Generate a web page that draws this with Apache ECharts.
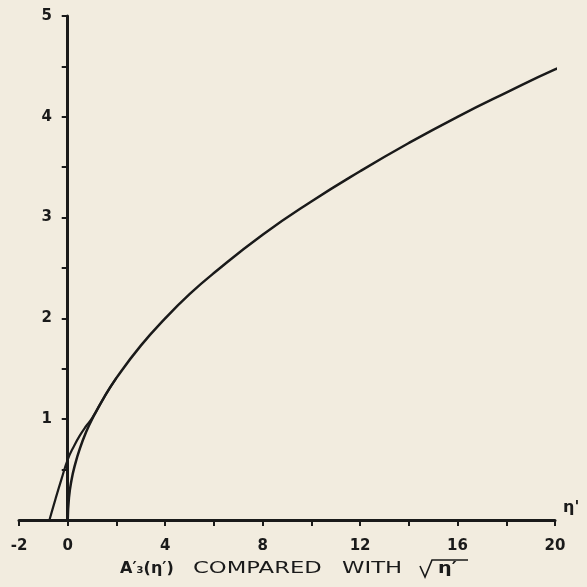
<!DOCTYPE html>
<html>
<head>
<meta charset="utf-8">
<script src="https://cdn.jsdelivr.net/npm/echarts@6/dist/echarts.min.js"></script>
<style>
  html, body { margin: 0; padding: 0; background: #f2ecdf; }
  #chart { width: 587px; height: 587px; }
</style>
</head>
<body>
<div id="chart"></div>
<script>
// sqrt(eta') curve
var rootX = [0, 0.05, 0.15, 0.3, 0.5, 0.75, 1, 1.5, 2, 3, 4, 5, 6, 8, 10, 12, 14, 16, 18, 20, 20.4]
var rootY = [0, 0.22, 0.39, 0.55, 0.71, 0.87, 1.0, 1.22, 1.41, 1.73, 2.0, 2.24, 2.45, 2.83, 3.16, 3.46, 3.74, 4.0, 4.24, 4.47, 4.5]
// A'3(eta') curve near the origin
var a3X = [-0.75, -0.5, -0.25, 0, 0.25, 0.5, 0.75, 1.0, 1.5, 2]
var a3Y = [0, 0.21, 0.41, 0.6, 0.73, 0.84, 0.93, 1.01, 1.22, 1.41]
// tick labels
var xLabels = [-2, 0, 4, 8, 12, 16, 20]
var yLabels = [1, 2, 3, 4, 5]

var ink = '#1a1a1a'
var labelFont = { color: ink, fontFamily: 'DejaVu Sans', fontWeight: 'bold', fontSize: 15 }

function pairs(xs, ys) {
  return xs.map(function (x, i) { return [x, ys[i]] })
}

// caption words, stretched wide like the printed lettering
function word(text, x, sx, bold) {
  return {
    type: 'text',
    x: x,
    y: 569,
    scaleX: sx,
    style: {
      text: text,
      fill: ink,
      font: (bold ? 'bold ' : '') + '16px "DejaVu Sans"',
      verticalAlign: 'middle'
    }
  }
}

var chart = echarts.init(document.getElementById('chart'))
chart.setOption({
  backgroundColor: '#f2ecdf',
  animation: false,
  grid: { left: 19, right: 32, top: 16, bottom: 67, outerBoundsMode: 'none' },
  xAxis: {
    type: 'value',
    min: -2,
    max: 20,
    interval: 2,
    name: "η'",
    nameLocation: 'end',
    nameGap: 8,
    nameTextStyle: Object.assign({}, labelFont, { fontSize: 16, verticalAlign: 'bottom', padding: [0, 0, 4, 0] }),
    axisLine: { lineStyle: { color: ink, width: 3 } },
    axisTick: { length: 6, lineStyle: { color: ink, width: 2 } },
    splitLine: { show: false },
    axisLabel: Object.assign({}, labelFont, {
      margin: 19,
      formatter: function (v) {
        return xLabels.indexOf(v) >= 0 ? String(v) : ''
      }
    })
  },
  yAxis: {
    type: 'value',
    min: 0,
    max: 5,
    interval: 0.5,
    axisLine: { onZero: true, lineStyle: { color: ink, width: 3 } },
    axisTick: { length: 6, lineStyle: { color: ink, width: 2 } },
    splitLine: { show: false },
    axisLabel: Object.assign({}, labelFont, {
      margin: -33,
      formatter: function (v) {
        return yLabels.indexOf(v) >= 0 ? String(v) : ''
      }
    })
  },
  series: [
    {
      type: 'line',
      data: pairs(rootX, rootY),
      smooth: true,
      showSymbol: false,
      lineStyle: { color: ink, width: 2.5 }
    },
    {
      type: 'line',
      data: pairs(a3X, a3Y),
      smooth: true,
      showSymbol: false,
      lineStyle: { color: ink, width: 2.2 }
    }
  ],
  graphic: [
    word('A′₃(η′)', 120, 1.0, true),
    word('COMPARED', 193, 1.42, false),
    word('WITH', 342, 1.42, false),
    word('η′', 438, 1.2, true),
    {
      // radical sign with its overbar
      type: 'polyline',
      shape: { points: [[420, 566], [425, 577], [432, 560], [468, 560]] },
      style: { stroke: ink, lineWidth: 1.6, fill: null }
    }
  ]
})
</script>
</body>
</html>
